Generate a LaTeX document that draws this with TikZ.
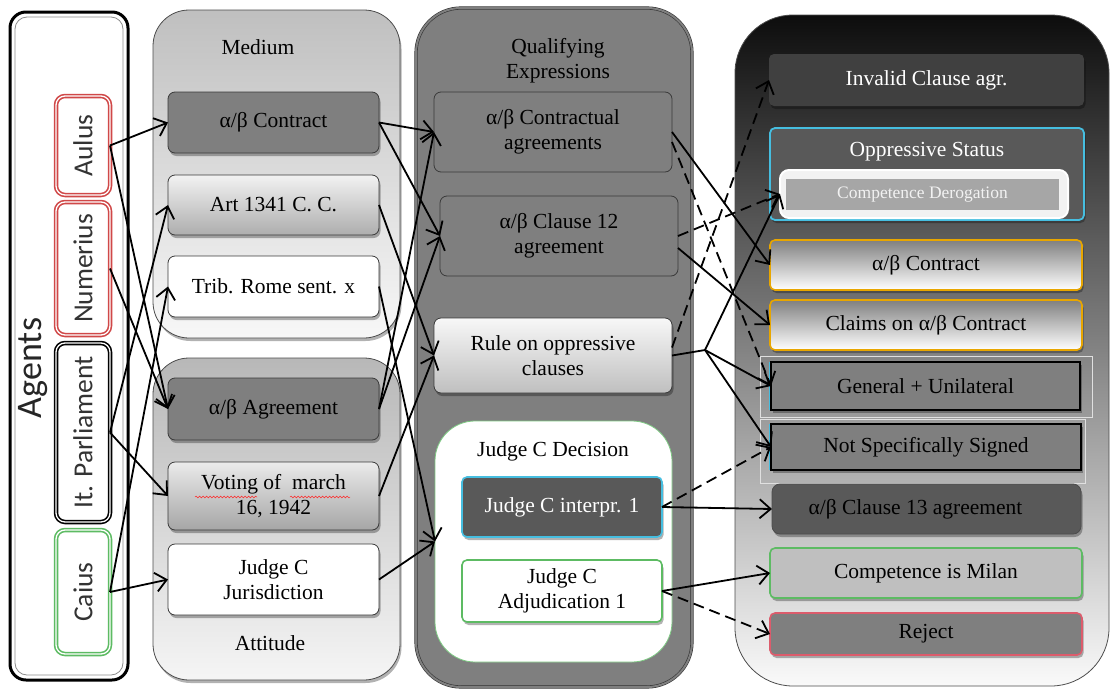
\documentclass[tikz,border=0pt]{standalone}
\usepackage{fontspec}
\setmainfont{Liberation Serif}
\newfontfamily\agentfont{Carlito}
\usetikzlibrary{arrows.meta,shadows,calc,decorations.pathmorphing}
\definecolor{mgray}{HTML}{7F7F7F}
\definecolor{dgray}{HTML}{595959}
\definecolor{ddgray}{HTML}{404040}
\definecolor{bordgray}{HTML}{3A3A3A}
\definecolor{cyanb}{HTML}{46BEE0}
\definecolor{goldb}{HTML}{E8A600}
\definecolor{greenb}{HTML}{5DBB63}
\definecolor{redb}{HTML}{D04848}
\definecolor{pinkb}{HTML}{DC5C6C}
\newcommand\msz{\fontsize{21.5}{25}\selectfont}
\tikzset{
  every node/.style={inner sep=0pt, outer sep=0pt, align=center},
  shd/.style={drop shadow={shadow xshift=1.5pt, shadow yshift=-3pt, opacity=0.3, fill=black}},
  agentbox/.style={rounded corners=9pt, line width=1.6pt, double=white, double distance=1.3pt, fill=white, minimum width=54, font=\agentfont\fontsize{27.5}{28}\selectfont, text=black!80},
  container/.style={rounded corners=36pt, draw=black!70, line width=0.8pt},
  ibox/.style={rounded corners=7pt, draw=bordgray, line width=0.8pt, font=\msz},
  rbox/.style={rounded corners=5pt, font=\msz, shd},
  frm/.style={draw=white!88!black, line width=1pt},
  lbl/.style={font=\msz},
  conn/.style={line width=1.8pt, -{Straight Barb[length=11pt,width=19pt,line width=1.8pt]}},
  dconn/.style={conn, dash pattern=on 11pt off 6pt},
  wavy/.style={red!85, line width=0.5pt, decorate, decoration={snake, amplitude=0.9pt, segment length=3.5pt}}
}
\begin{document}
\begin{tikzpicture}[x=1pt,y=-1pt]
\useasboundingbox (0,0) rectangle (1110,688);
% ---------- Agents ----------
\node[draw=black, line width=3pt, rounded corners=16pt, minimum width=118, minimum height=668, fill=white] (agents) at (69,346) {};
\draw[black!45, line width=0.8pt, rounded corners=12pt] (15,17) rectangle (123,675);
\node[font=\agentfont\fontsize{36}{36}\selectfont, text=black!85] (agentslbl) at (33,368) {\rotatebox{90}{Agents}};
\node[agentbox, draw=redb, minimum height=99] (aulus) at (83,145.5) {\rotatebox{90}{Aulus}};
\node[agentbox, draw=redb, minimum height=133] (numerius) at (83,268.5) {\rotatebox{90}{Numerius}};
\node[agentbox, draw=black, minimum height=179] (parl) at (83,432.5) {\rotatebox{90}{It. Parliament}};
\node[agentbox, draw=greenb, minimum height=124] (caius) at (83,592) {\rotatebox{90}{Caius}};
% ---------- Medium / Attitude ----------
\node[container, top color=black!25, bottom color=black!3, minimum width=247, minimum height=328, shd] (medium) at (276.5,174) {};
\node[container, top color=black!28, bottom color=black!4, minimum width=247, minimum height=322, shd] (attitude) at (276.5,519) {};
\node[lbl] (mediumlbl) at (258,47) {Medium};
\node[lbl] (attitudelbl) at (270,643) {Attitude};
\node[ibox, shd, fill=mgray, minimum width=211, minimum height=61] (mcontract) at (273.5,122.5) {α/β Contract};
\node[ibox, shd, top color=black!5, bottom color=black!32, minimum width=211, minimum height=60] (art) at (273.5,205) {Art 1341 C. C.};
\node[ibox, shd, fill=white, minimum width=211, minimum height=61] (trib) at (273.5,286.5) {Trib. Rome sent. x};
\node[ibox, shd, fill=mgray, minimum width=211, minimum height=62] (agree) at (273.5,409) {α/β Agreement};
\node[ibox, shd, top color=black!8, bottom color=black!35, minimum width=211, minimum height=68] (voting) at (273.5,496) {Voting of\ \ march\\16, 1942};
\node[ibox, shd, fill=white, minimum width=211, minimum height=71] (jurisd) at (273.5,579.5) {Judge C\\Jurisdiction};
\draw[wavy] (195,497) -- (257,497);
\draw[wavy] (290,497) -- (350,497);
% ---------- Qualifying Expressions ----------
\node[draw=black!80, double=mgray, double distance=2pt, line width=0.6pt, fill=mgray, rounded corners=45pt, minimum width=276, minimum height=679] (qe) at (554,347.5) {};
\node[lbl] (qelbl) at (558,61) {Qualifying\\Expressions};
\node[ibox, fill=mgray, minimum width=238, minimum height=80] (contr) at (553,132) {α/β Contractual\\agreements};
\node[ibox, fill=mgray, minimum width=238, minimum height=80] (clause12) at (559,236) {α/β Clause 12\\agreement};
\node[ibox, shd, top color=white!97!black, bottom color=black!25, minimum width=238, minimum height=75] (rule) at (553,355.5) {Rule on oppressive\\clauses};
\node[draw=greenb!80, line width=0.8pt, fill=white, rounded corners=40pt, minimum width=237, minimum height=241] (jdec) at (553.5,541.5) {};
\node[lbl] (jdeclbl) at (553,451) {Judge C Decision};
\node[rbox, fill=dgray, draw=cyanb, line width=1.6pt, text=white, minimum width=200, minimum height=60] (interp) at (562,507) {Judge C interpr. 1};
\node[rbox, fill=white, draw=greenb, line width=1.6pt, minimum width=200, minimum height=62] (adjud) at (562,591) {Judge C\\Adjudication 1};
% ---------- Right column ----------
\node[draw=black!70, line width=0.8pt, rounded corners=58pt, top color=black!95, bottom color=white!98!black, minimum width=374, minimum height=671] (rcont) at (922,350.5) {};
\node[rbox, fill=ddgray, text=white, minimum width=315, minimum height=52] (invalid) at (926.5,80) {Invalid Clause agr.};
\node[rbox, fill=dgray, draw=cyanb, line width=1.8pt, minimum width=314, minimum height=92] (opp) at (927,174) {};
\node[font=\msz, text=white] (opplbl) at (927,152) {Oppressive Status};
\node[fill=white!95!black, draw=white, line width=2pt, rounded corners=9pt, minimum width=288, minimum height=48] (compder) at (924,194) {};
\node[fill=black!35, minimum width=273, minimum height=31, font=\fontsize{17.5}{18}\selectfont, text=white!95!black] (compderin) at (922.5,194.5) {Competence Derogation};
\node[rbox, top color=black!50, bottom color=white, draw=goldb, line width=1.6pt, minimum width=312, minimum height=50] (rcontract) at (926,265) {α/β Contract};
\node[rbox, top color=black!50, bottom color=white, draw=goldb, line width=1.6pt, minimum width=312, minimum height=50] (claims) at (926,325) {Claims on α/β Contract};
\node[frm, minimum width=332, minimum height=61] (genuniframe) at (926,386.5) {};
\node[frm, minimum width=325, minimum height=64] (notsigframe) at (922.5,451) {};
\node[fill=mgray, draw=black, line width=2.2pt, minimum width=309, minimum height=48, font=\msz, shd] (genuni) at (925.5,386) {General + Unilateral};
\node[fill=mgray, draw=black, line width=2.2pt, minimum width=310, minimum height=46, font=\msz, shd] (notsig) at (926,447) {Not Specifically Signed};
\draw[cyanb, line width=1.2pt] ([xshift=-1.8pt]genuni.north west) -- ([xshift=-1.8pt]genuni.south west);
\draw[cyanb, line width=1.2pt] ([xshift=-1.8pt]notsig.north west) -- ([xshift=-1.8pt]notsig.south west);
\node[rbox, fill=dgray, draw=black!70, line width=0.8pt, rounded corners=8pt, minimum width=309, minimum height=50] (cl13) at (926.5,509) {α/β Clause 13 agreement\hspace*{22pt}};
\node[rbox, fill=black!25, draw=greenb, line width=1.6pt, minimum width=312, minimum height=50] (milan) at (926,573) {Competence is Milan};
\node[rbox, fill=mgray, draw=pinkb, line width=1.6pt, minimum width=312, minimum height=42] (reject) at (926,634) {Reject};
% ---------- Connectors ----------
\draw[conn] (aulus.east) -- (mcontract.west);
\draw[conn] (aulus.east) -- (agree.west);
\draw[conn] (numerius.east) -- (agree.west);
\draw[conn] (parl.east) -- (art.west);
\draw[conn] (parl.east) -- (voting.west);
\draw[conn] (caius.east) -- (trib.west);
\draw[conn] (caius.east) -- (jurisd.west);
\draw[conn] (mcontract.east) -- (contr.west);
\draw[conn] (mcontract.east) -- (clause12.west);
\draw[conn] (art.east) -- (rule.west);
\draw[conn] (trib.east) -- (jdec.west);
\draw[conn] (agree.east) -- (contr.west);
\draw[conn] (agree.east) -- (clause12.west);
\draw[conn] (voting.east) -- (rule.west);
\draw[conn] (jurisd.east) -- (jdec.west);
\coordinate (fork) at (705,350);
\draw[conn] (contr.east) -- (rcontract.west);
\draw[dconn] ($(contr.east)+(0,10)$) -- (genuni.west);
\draw[dconn] (clause12.east) -- (compder.west);
\draw[conn] ($(clause12.east)+(0,12)$) -- (claims.west);
\draw[line width=1.8pt] (rule.east) -- (fork);
\draw[conn] (fork) -- (compder.west);
\draw[conn] (fork) -- (genuni.west);
\draw[conn] (fork) -- (notsig.west);
\draw[dconn] ($(rule.east)+(0,-8)$) -- (invalid.west);
\draw[conn] (interp.east) -- (cl13.west);
\draw[dconn] (interp.east) -- (notsig.west);
\draw[conn] (adjud.east) -- (milan.west);
\draw[dconn] (adjud.east) -- (reject.west);
\end{tikzpicture}
\end{document}
